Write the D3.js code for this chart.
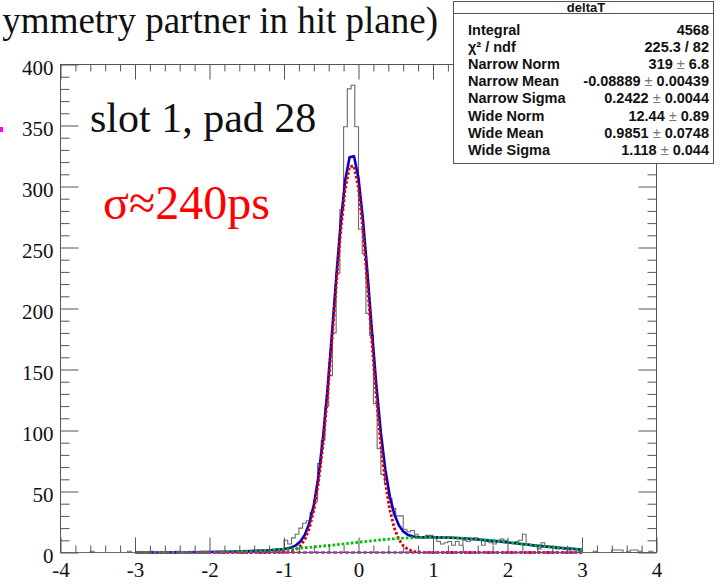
<!DOCTYPE html>
<html>
<head>
<meta charset="utf-8">
<script src="https://cdn.jsdelivr.net/npm/d3@7"></script>
<style>
  body { margin: 0; background: #fff; }
  svg { display: block; }
</style>
</head>
<body>
<svg id="chart" width="726" height="584"></svg>
<script>
// deltaT: 160 bins of width 0.05 covering [-4, 4)
const binLow = -4;
const binWidth = 0.05;
const counts = [
  0, 0, 0, 0, 0, 0, 0, 0, 1, 0,   0, 0, 0, 0, 0, 0, 0, 0, 1, 0,
  0, 0, 0, 0, 1, 0, 0, 0, 0, 0,   0, 1, 0, 0, 0, 0, 0, 0, 0, 0,
  0, 0, 1, 0, 0, 0, 0, 0, 1, 0,   0, 1, 0, 2, 0, 1, 2, 1, 3, 2,
  10, 7, 12, 15, 20, 24, 26, 33, 42, 73,   92, 120, 145, 180, 229, 281, 349, 380, 383, 349,
  265, 245, 196, 178, 122, 85, 64, 57, 44, 36,   30, 30, 19, 17, 18, 15, 13, 12, 14, 14,
  12, 9, 7, 8, 9, 6, 9, 6, 10, 9,   11, 12, 10, 6, 9, 8, 7, 10, 11, 10,
  8, 8, 9, 10, 15, 7, 6, 5, 3, 8,   5, 5, 5, 3, 4, 3, 2, 3, 3, 1,
  0, 0, 0, 1, 0, 0, 0, 0, 2, 2,   2, 0, 1, 2, 2, 1, 0, 0, 1, 0
];

// Fit components: [norm, mean, sigma]
const narrowGauss = [319, -0.08889, 0.2422];
const wideGauss = [12.44, 0.9851, 1.118];
const backgroundLevel = 0;
const fitRange = [-3, 3];
const fitPoints = 100;

const xTicks = [-4, -3, -2, -1, 0, 1, 2, 3, 4];
const yTicks = [0, 50, 100, 150, 200, 250, 300, 350, 400];

const statTitle = "deltaT";
const statLabels = ["Integral", "\u03c7\u00b2 / ndf", "Narrow Norm", "Narrow Mean", "Narrow Sigma",
                    "Wide Norm", "Wide Mean", "Wide Sigma"];
const statValues = ["4568", "225.3 / 82", "319 \u00b1 6.8", "-0.08889 \u00b1 0.00439", "0.2422 \u00b1 0.0044",
                    "12.44 \u00b1 0.89", "0.9851 \u00b1 0.0748", "1.118 \u00b1 0.044"];

const svg = d3.select("#chart");
const serif = "'Liberation Serif', 'Times New Roman', serif";
const sans = "'Liberation Sans', Arial, Helvetica, sans-serif";
const axisColor = "#555";

const x = d3.scaleLinear().domain([-4, 4]).range([60.5, 656.5]);
const y = d3.scaleLinear().domain([0, 400]).range([552.5, 64.5]);

// frame
svg.append("rect")
  .attr("x", x(-4)).attr("y", y(400))
  .attr("width", x(4) - x(-4)).attr("height", y(0) - y(400))
  .attr("fill", "none").attr("stroke", axisColor).attr("stroke-width", 1);

// histogram outline
const histPts = [[binLow, 0]];
counts.forEach((c, i) => {
  const lo = binLow + i * binWidth;
  histPts.push([lo, c], [lo + binWidth, c]);
});
histPts.push([binLow + counts.length * binWidth, 0]);
const line = d3.line().x(d => x(d[0])).y(d => y(d[1]));
svg.append("path")
  .attr("d", line(histPts))
  .attr("fill", "none").attr("stroke", "#6a6a6a").attr("stroke-width", 1.1);

// fit functions
const gauss = (p, t) => p[0] * Math.exp(-0.5 * ((t - p[1]) / p[2]) ** 2);
const samples = d3.range(fitPoints + 1).map(k => fitRange[0] + (fitRange[1] - fitRange[0]) * k / fitPoints);

svg.append("path")
  .attr("d", line(samples.map(t => [t, gauss(narrowGauss, t) + gauss(wideGauss, t) + backgroundLevel])))
  .attr("fill", "none").attr("stroke", "#0000cc").attr("stroke-width", 2.6)
  .attr("stroke-linejoin", "round");

svg.append("path")
  .attr("d", line(samples.map(t => [t, gauss(narrowGauss, t)])))
  .attr("fill", "none").attr("stroke", "#e00000").attr("stroke-width", 2.8)
  .attr("stroke-dasharray", "2.6 2");

svg.append("path")
  .attr("d", line(samples.map(t => [t, gauss(wideGauss, t)])))
  .attr("fill", "none").attr("stroke", "#00c000").attr("stroke-width", 2.8)
  .attr("stroke-dasharray", "2.6 2");

svg.append("path")
  .attr("d", line(fitRange.map(t => [t, backgroundLevel])))
  .attr("fill", "none").attr("stroke", "#9a3aa0").attr("stroke-width", 2.4)
  .attr("stroke-dasharray", "4 2");

// axes
function styleAxis(g) {
  g.select(".domain").remove();
  g.selectAll("line").attr("stroke", axisColor).attr("stroke-width", 1);
  g.selectAll("text").attr("font-family", serif).attr("font-size", 21).attr("fill", "#111");
}
const none = () => "";
const xMinor = x.ticks(40).filter(v => !xTicks.includes(v));
const yMinor = y.ticks(40).filter(v => !yTicks.includes(v));

svg.append("g").attr("transform", `translate(0,${y(0)})`)
  .call(d3.axisBottom(x).tickValues(xTicks).tickSizeInner(-15).tickSizeOuter(0).tickPadding(10)
    .tickFormat(d => String(d)))
  .call(styleAxis);
svg.append("g").attr("transform", `translate(0,${y(0)})`)
  .call(d3.axisBottom(x).tickValues(xMinor).tickSizeInner(-7).tickSizeOuter(0).tickFormat(none))
  .call(styleAxis);
svg.append("g").attr("transform", `translate(0,${y(400)})`)
  .call(d3.axisTop(x).tickValues(xTicks).tickSizeInner(-15).tickSizeOuter(0).tickFormat(none))
  .call(styleAxis);
svg.append("g").attr("transform", `translate(0,${y(400)})`)
  .call(d3.axisTop(x).tickValues(xMinor).tickSizeInner(-7).tickSizeOuter(0).tickFormat(none))
  .call(styleAxis);

svg.append("g").attr("transform", `translate(${x(-4)},0)`)
  .call(d3.axisLeft(y).tickValues(yTicks).tickSizeInner(-18).tickSizeOuter(0).tickPadding(7)
    .tickFormat(d => String(d)))
  .call(styleAxis)
  .selectAll("text").attr("dy", "0.46em");
svg.append("g").attr("transform", `translate(${x(-4)},0)`)
  .call(d3.axisLeft(y).tickValues(yMinor).tickSizeInner(-9).tickSizeOuter(0).tickFormat(none))
  .call(styleAxis);
svg.append("g").attr("transform", `translate(${x(4)},0)`)
  .call(d3.axisRight(y).tickValues(yTicks).tickSizeInner(-18).tickSizeOuter(0).tickFormat(none))
  .call(styleAxis);
svg.append("g").attr("transform", `translate(${x(4)},0)`)
  .call(d3.axisRight(y).tickValues(yMinor).tickSizeInner(-9).tickSizeOuter(0).tickFormat(none))
  .call(styleAxis);

// slide annotations
svg.append("text")
  .attr("x", 438).attr("y", 33).attr("text-anchor", "end")
  .attr("font-family", serif).attr("font-size", 37).attr("fill", "#111")
  .text("ymmetry partner in hit plane)");
svg.append("rect").attr("x", 0).attr("y", 127).attr("width", 3).attr("height", 5).attr("fill", "#ff00ff");
svg.append("text")
  .attr("x", 90).attr("y", 132)
  .attr("font-family", serif).attr("font-size", 42).attr("fill", "#111")
  .text("slot 1, pad 28");
svg.append("text")
  .attr("x", 103).attr("y", 219)
  .attr("font-family", serif).attr("font-size", 48).attr("fill", "#ff0000")
  .text("\u03c3\u2248240ps");

// statistics box
const box = svg.append("g");
box.append("rect")
  .attr("x", 453.5).attr("y", 1.5).attr("width", 260).attr("height", 162)
  .attr("fill", "#fff").attr("stroke", axisColor).attr("stroke-width", 1);
box.append("line")
  .attr("x1", 453.5).attr("x2", 713.5).attr("y1", 13.5).attr("y2", 13.5)
  .attr("stroke", axisColor).attr("stroke-width", 1);
box.append("text")
  .attr("x", 586).attr("y", 11.5).attr("text-anchor", "middle")
  .attr("font-family", sans).attr("font-size", 13).attr("font-weight", "bold").attr("fill", "#111")
  .text(statTitle);

statLabels.forEach((lab, i) => {
  const yy = 34.5 + 17.2 * i;
  box.append("text")
    .attr("x", 468).attr("y", yy)
    .attr("font-family", sans).attr("font-size", 14.5).attr("font-weight", "bold").attr("fill", "#111")
    .text(lab);
  const t = box.append("text")
    .attr("x", 709).attr("y", yy).attr("text-anchor", "end")
    .attr("font-family", sans).attr("font-size", 14.5).attr("font-weight", "bold").attr("fill", "#111");
  const parts = statValues[i].split(" \u00b1 ");
  t.append("tspan").text(parts[0]);
  if (parts.length > 1) {
    t.append("tspan").attr("font-weight", "normal").attr("fill", "#777").text(" \u00b1 ");
    t.append("tspan").text(parts[1]);
  }
});
</script>
</body>
</html>
